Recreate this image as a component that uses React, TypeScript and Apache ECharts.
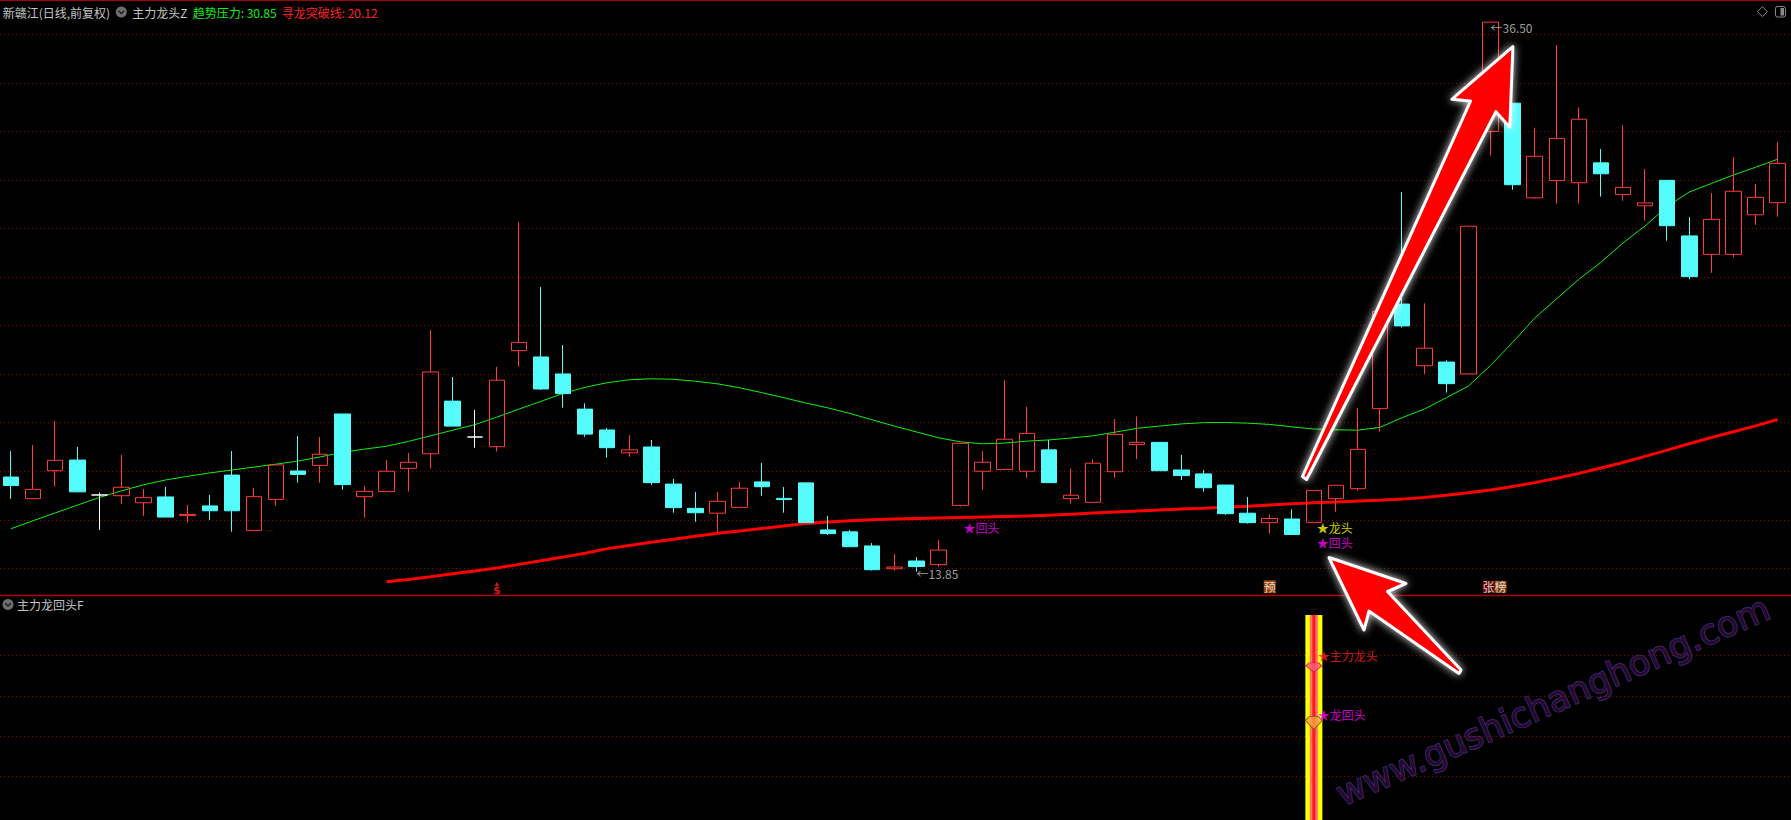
import React, { useEffect, useRef } from "react";
import * as echarts from "echarts";

// ---------- data ----------
const opens = [
  17.75, 16.86, 18.01, 18.45, 17.01, 16.98, 16.69, 16.93, 16.16, 16.56,
  17.83, 15.55, 16.83, 18.0, 18.23, 20.35, 16.94, 17.15, 18.11, 18.71,
  20.88, 19.4, 19.0, 22.96, 22.7, 22.0, 20.55, 19.69, 18.75, 18.99,
  17.46, 16.46, 16.26, 16.5, 17.55, 16.87, 17.51, 15.57, 15.49, 14.91,
  13.97, 14.29, 14.14, 16.58, 17.99, 18.06, 17.99, 18.87, 16.86, 16.71,
  17.97, 19.09, 19.18, 18.04, 17.88, 17.42, 16.26, 15.87, 16.02, 15.88,
  16.86, 17.27, 20.57, 24.88, 22.34, 22.49, 22.0, 32.0, 33.16, 29.26,
  29.97, 29.88, 30.7, 29.4, 28.93, 29.98, 27.69, 26.93, 26.93, 28.56, 29.06,
];
const closes = [
  17.4, 17.24, 18.44, 17.14, 17.01, 17.33, 16.9, 16.1, 16.21, 16.36,
  16.36, 16.94, 18.25, 17.86, 18.69, 17.44, 17.16, 17.99, 18.36, 22.08,
  19.85, 19.4, 21.74, 23.3, 21.38, 21.19, 19.52, 18.96, 18.87, 17.52,
  16.49, 16.28, 16.75, 17.29, 17.35, 16.82, 15.87, 15.42, 14.88, 13.93,
  14.04, 14.06, 14.74, 19.14, 18.36, 19.31, 19.55, 17.52, 17.0, 18.32,
  19.51, 19.18, 18.01, 17.81, 17.31, 16.24, 15.87, 16.04, 15.38, 17.2,
  17.41, 18.89, 24.58, 23.98, 23.06, 21.6, 28.09, 36.5, 29.8, 30.97,
  31.71, 32.5, 30.25, 29.69, 29.05, 28.11, 26.01, 28.37, 29.53, 29.28, 30.68,
];
const lows = [
  16.85, 16.86, 17.36, 17.14, 15.57, 16.64, 16.15, 16.1, 15.87, 15.98,
  15.5, 15.55, 16.57, 17.52, 17.52, 17.23, 16.08, 17.15, 17.15, 18.1,
  19.85, 18.96, 18.8, 22.3, 21.34, 20.61, 19.41, 18.55, 18.59, 17.42,
  16.28, 15.91, 15.47, 16.5, 16.98, 16.28, 15.87, 15.36, 14.88, 13.9,
  13.89, 13.85, 14.06, 16.53, 17.22, 18.06, 17.72, 17.52, 16.65, 16.71,
  17.72, 18.49, 18.01, 17.63, 17.15, 16.19, 15.83, 15.43, 15.38, 15.88,
  16.32, 17.19, 19.62, 23.91, 22.0, 21.23, 22.0, 31.0, 29.59, 29.22,
  29.02, 29.02, 29.31, 29.14, 28.32, 27.49, 25.9, 26.17, 26.81, 28.15, 28.48,
];
const highs = [
  18.82, 19.07, 20.06, 18.99, 17.11, 18.66, 17.26, 17.34, 16.6, 17.01,
  18.82, 17.3, 18.25, 19.44, 19.4, 20.35, 17.38, 18.45, 18.74, 23.81,
  21.87, 20.51, 22.29, 28.26, 25.58, 23.19, 20.79, 19.78, 19.48, 19.28,
  17.67, 17.13, 17.13, 17.55, 18.33, 17.34, 17.51, 16.15, 15.57, 15.03,
  14.58, 14.45, 15.16, 19.14, 18.82, 21.75, 20.64, 19.28, 18.11, 18.48,
  20.14, 20.25, 19.18, 18.66, 18.04, 17.42, 16.93, 16.21, 16.42, 17.2,
  17.41, 20.6, 24.6, 29.5, 24.91, 22.57, 28.09, 36.5, 33.16, 32.15,
  35.56, 32.99, 31.27, 32.26, 30.45, 29.98, 28.46, 29.46, 30.94, 29.83, 31.55,
];
// doji days drawn in white
const whiteDoji = [4, 21];

// 趋势压力 (green)
const trendPressure = [
  15.62, 15.95, 16.27, 16.59, 16.91, 17.18, 17.43, 17.63, 17.78, 17.92,
  18.04, 18.16, 18.28, 18.41, 18.58, 18.77, 18.9, 19.02, 19.22, 19.45,
  19.68, 19.91, 20.22, 20.55, 20.87, 21.2, 21.45, 21.64, 21.76, 21.8,
  21.78, 21.7, 21.59, 21.43, 21.23, 21.02, 20.8, 20.6, 20.37, 20.11,
  19.85, 19.61, 19.37, 19.2, 19.12, 19.15, 19.23, 19.28, 19.36, 19.45,
  19.6, 19.76, 19.85, 19.94, 19.99, 20.0, 19.97, 19.92, 19.82, 19.73,
  19.7, 19.68, 19.8, 20.2, 20.55, 21.02, 21.5, 22.35, 23.3, 24.3,
  25.1, 25.9, 26.6, 27.4, 28.1, 28.9, 29.5, 29.85, 30.2, 30.52, 30.85,
];
// 寻龙突破线 (red)
const breakoutLine: (number | null)[] = [
  null, null, null, null, null, null, null, null, null, null,
  null, null, null, null, null, null, null,
  13.43, 13.53, 13.64, 13.76, 13.88, 14.0, 14.15, 14.3, 14.45, 14.61,
  14.8, 14.93, 15.06, 15.19, 15.31, 15.43, 15.53, 15.63, 15.73, 15.84,
  15.9, 15.95, 15.99, 16.02, 16.04, 16.06, 16.08, 16.1, 16.12, 16.14,
  16.18, 16.22, 16.27, 16.31, 16.35, 16.39, 16.43, 16.46, 16.51, 16.55,
  16.6, 16.65, 16.69, 16.72, 16.76, 16.79, 16.84, 16.91, 17.0, 17.1,
  17.22, 17.36, 17.52, 17.7, 17.9, 18.12, 18.35, 18.6, 18.86, 19.12,
  19.38, 19.62, 19.86, 20.12,
];

const priceGrid = [14, 16, 18, 20, 22, 24, 26, 28, 30, 32, 34, 36];
const subGrid = [1, 2, 3, 4];

// signal texts in the price panel
const mainMarkIdx = [43, 59, 59];
const mainMarkPrice = [15.66, 15.66, 15.06];
const mainMarkText = ["★回头", "★龙头", "★回头"];

// tags at the bottom of the price panel
const tagIdx = [22, 57, 67];
const tagPrice = [13.16, 13.23, 13.23];
const tagText = ["$", "预", "张榜"];

// 主力龙回头F sub panel
const signalIdx = [59];
const signalVal = [5];
const gemIdx = [59, 59];
const gemVal = [3.7, 2.32];
const subMarkIdx = [59, 59];
const subMarkVal = [3.99, 2.52];
const subMarkText = ["★主力龙头", "★龙回头"];

const days = opens.map((_, i) => String(i + 1));

// ---------- styles ----------
const FONT = '"Noto Sans CJK SC", "DejaVu Sans", sans-serif';
const UP = "#ff3b3b";
const DOWN = "#54fcfc";
const GRID_RED = "#8c0000";

function buildOption(): any {
  const candleData = opens.map((o, i) => {
    const item: any = { value: [o, closes[i], lows[i], highs[i]] };
    if (whiteDoji.includes(i)) {
      item.itemStyle = { color: "#ffffff", color0: "#ffffff", borderColor: "#ffffff", borderColor0: "#ffffff" };
    }
    return item;
  });

  const minLow = Math.min(...lows);
  const minIdx = lows.indexOf(minLow);
  const maxHigh = Math.max(...highs);
  const maxIdx = highs.indexOf(maxHigh);

  const markColors = ["#ff00ff", "#ffff00", "#ff00ff"];
  const mainLabels: any[] = mainMarkIdx.map((idx, k) => ({
    value: [idx, mainMarkPrice[k]],
    label: { formatter: mainMarkText[k], color: markColors[k], distance: 3 },
  }));
  mainLabels.push({
    value: [minIdx, minLow - 0.07],
    label: { formatter: "←" + minLow.toFixed(2), color: "#c8c8c8", distance: 0 },
  });
  mainLabels.push({
    value: [maxIdx, maxHigh - 0.21],
    label: { formatter: "←" + maxHigh.toFixed(2), color: "#c8c8c8", distance: 0 },
  });

  const tagData = tagIdx.map((idx, k) => {
    const t = tagText[k];
    let label: any;
    if (t === "$") {
      label = {
        position: "inside",
        formatter: "{c|▲}\n{d|$}",
        rich: {
          c: { fontSize: 5, lineHeight: 5, color: "#ff2020", align: "center" },
          d: { fontSize: 11, lineHeight: 10, color: "#ff2020", fontWeight: "bold", fontFamily: "DejaVu Sans", align: "center" },
        },
      };
    } else if (t.length === 1) {
      label = {
        position: "inside",
        formatter: t,
        color: "#ffffff",
        fontSize: 12,
        lineHeight: 13,
        backgroundColor: "#b4520c",
        padding: [0, 0, 0, 0],
      };
    } else {
      label = {
        position: "inside",
        align: "left",
        offset: [-8, 0],
        formatter: "{a|" + t[0] + "}{b|" + t[1] + "}",
        rich: {
          a: { color: "#ffffff", fontSize: 12, lineHeight: 13, backgroundColor: "#7a0c0c", fontFamily: FONT },
          b: { color: "#ffffff", fontSize: 12, lineHeight: 13, backgroundColor: "#a8520e", fontFamily: FONT },
        },
      };
    }
    return { value: [idx, tagPrice[k]], label };
  });

  const subColors = ["#ff2020", "#ff00ff"];
  const subLabels = subMarkIdx.map((idx, k) => ({
    value: [idx, subMarkVal[k]],
    label: { formatter: subMarkText[k], color: subColors[k], distance: 4 },
  }));

  const gemSymbols = [
    "path://M0,3 L3,0 L13,0 L16,3 L8,9 Z",
    "path://M0,4 L4,0 L13,0 L17,4 L8.5,13 Z",
  ];
  const gemFill = ["#ff5a7a", "#f6a440"];
  const gemStroke = ["#b8203e", "#8a4a10"];
  const gemSize = [[16, 9], [17, 13]];
  const gemData = gemIdx.map((idx, k) => ({
    value: [idx, gemVal[k]],
    symbol: gemSymbols[k],
    symbolSize: gemSize[k],
    itemStyle: { color: gemFill[k], borderColor: gemStroke[k], borderWidth: 1 },
  }));

  const gridLineRender = (params: any, api: any) => {
    const y = Math.round(api.coord([0, api.value(1)])[1]) + 0.5;
    return {
      type: "line",
      shape: { x1: 0, y1: y, x2: 1791, y2: y },
      style: { stroke: GRID_RED, lineWidth: 1, lineDash: [1, 3] },
    };
  };

  const arrow1 = [
    [1302.5, 476.5], [1470.6, 101], [1451.8, 99.3], [1512.9, 46.7],
    [1509.8, 127.3], [1495.9, 111.7], [1306.5, 479.5],
  ];
  const arrow2 = [
    [1329, 557.5], [1406, 583.5], [1387.5, 591.5], [1461, 670],
    [1459, 673.5], [1369, 611], [1364, 630],
  ];

  const headerText = (text: string, x: number, y: number, fill: string) => ({
    type: "text",
    z: 20,
    style: {
      text, x, y, fill,
      font: `12px ${FONT}`,
      textVerticalAlign: "middle",
      verticalAlign: "middle",
    },
  });

  const circleIcon = (cx: number, cy: number) => ({
    type: "group",
    z: 20,
    children: [
      { type: "circle", shape: { cx, cy, r: 5.5 }, style: { fill: "#6e6e6e" } },
      {
        type: "polyline",
        shape: { points: [[cx - 2.8, cy - 1.2], [cx, cy + 1.6], [cx + 2.8, cy - 1.2]] },
        style: { stroke: "#1c1c1c", lineWidth: 1.4, fill: "none" },
      },
    ],
  });

  return {
    backgroundColor: "#000000",
    animation: false,
    grid: [
      { left: -1.48, top: 2, width: 1790.1, height: 593 },
      { left: -1.48, top: 596, width: 1790.1, height: 224 },
    ],
    xAxis: [
      { type: "category", data: days, gridIndex: 0, boundaryGap: true, show: false },
      { type: "category", data: days, gridIndex: 1, boundaryGap: true, show: false },
    ],
    yAxis: [
      { type: "value", gridIndex: 0, min: 12.888, max: 37.331, show: false, splitLine: { show: false } },
      { type: "value", gridIndex: 1, min: -0.084, max: 5.47, show: false, splitLine: { show: false } },
    ],
    series: [
      {
        type: "custom",
        name: "grid-main",
        xAxisIndex: 0,
        yAxisIndex: 0,
        z: 1,
        silent: true,
        clip: false,
        data: priceGrid.map((v) => [0, v]),
        encode: { x: 0, y: 1 },
        renderItem: gridLineRender,
      },
      {
        type: "custom",
        name: "grid-sub",
        xAxisIndex: 1,
        yAxisIndex: 1,
        z: 1,
        silent: true,
        clip: false,
        data: subGrid.map((v) => [0, v]),
        encode: { x: 0, y: 1 },
        renderItem: gridLineRender,
      },
      {
        type: "line",
        name: "趋势压力",
        xAxisIndex: 0,
        yAxisIndex: 0,
        z: 2,
        data: trendPressure,
        symbol: "none",
        lineStyle: { color: "#10f010", width: 1 },
      },
      {
        type: "line",
        name: "寻龙突破线",
        xAxisIndex: 0,
        yAxisIndex: 0,
        z: 2,
        data: breakoutLine,
        symbol: "none",
        connectNulls: false,
        lineStyle: { color: "#ff0000", width: 3 },
      },
      {
        type: "candlestick",
        name: "K线",
        xAxisIndex: 0,
        yAxisIndex: 0,
        z: 3,
        barWidth: 16,
        data: candleData,
        itemStyle: {
          color: "rgba(0,0,0,0)",
          color0: DOWN,
          borderColor: UP,
          borderColor0: DOWN,
          borderWidth: 1,
        },
      },
      {
        type: "scatter",
        name: "marks",
        xAxisIndex: 0,
        yAxisIndex: 0,
        z: 5,
        symbolSize: 0,
        itemStyle: { color: "rgba(0,0,0,0)" },
        data: mainLabels,
        label: { show: true, position: "right", fontSize: 12, fontFamily: FONT },
      },
      {
        type: "scatter",
        name: "tags",
        xAxisIndex: 0,
        yAxisIndex: 0,
        z: 5,
        symbolSize: 0,
        itemStyle: { color: "rgba(0,0,0,0)" },
        data: tagData,
        label: { show: true, fontSize: 12, fontFamily: FONT },
      },
      {
        type: "custom",
        name: "主力龙回头F",
        xAxisIndex: 1,
        yAxisIndex: 1,
        z: 3,
        data: signalIdx.map((idx, k) => [idx, signalVal[k]]),
        encode: { x: 0, y: 1 },
        renderItem: (params: any, api: any) => {
          const top = api.coord([api.value(0), api.value(1)]);
          const cs = params.coordSys;
          const bottom = cs.y + cs.height;
          const cx = top[0];
          const h = bottom - top[1];
          return {
            type: "group",
            children: [
              { type: "rect", shape: { x: cx - 8.5, y: top[1], width: 17, height: h }, style: { fill: "#ffff00" } },
              { type: "rect", shape: { x: cx - 4, y: top[1], width: 8, height: h }, style: { fill: "#ff6f6f" } },
              { type: "rect", shape: { x: cx - 1.5, y: top[1], width: 3, height: h }, style: { fill: "#ff1a1a" } },
            ],
          };
        },
      },
      {
        type: "scatter",
        name: "gems",
        xAxisIndex: 1,
        yAxisIndex: 1,
        z: 6,
        data: gemData,
      },
      {
        type: "scatter",
        name: "submarks",
        xAxisIndex: 1,
        yAxisIndex: 1,
        z: 6,
        symbolSize: 0,
        itemStyle: { color: "rgba(0,0,0,0)" },
        data: subLabels,
        label: { show: true, position: "right", fontSize: 12, fontFamily: FONT },
      },
    ],
    graphic: [
      {
        type: "text",
        z: 0,
        x: 1553,
        y: 701,
        rotation: 0.415,
        silent: true,
        style: {
          text: "www.gushichanghong.com",
          font: '35px "DejaVu Sans"',
          fill: "#26082e",
          stroke: "#3f2f78",
          lineWidth: 1.5,
          textAlign: "center",
          align: "center",
          textVerticalAlign: "middle",
          verticalAlign: "middle",
        },
      },
      { type: "line", z: 20, shape: { x1: 0, y1: 0.5, x2: 1791, y2: 0.5 }, style: { stroke: "#a00000", lineWidth: 1 } },
      { type: "line", z: 20, shape: { x1: 0, y1: 595.5, x2: 1791, y2: 595.5 }, style: { stroke: "#b40000", lineWidth: 1.5 } },
      headerText("新赣江(日线,前复权)", 2.7, 12, "#c4c4c4"),
      circleIcon(121.3, 12),
      headerText("主力龙头Z", 132.3, 12, "#c4c4c4"),
      headerText("趋势压力: " + trendPressure[trendPressure.length - 1].toFixed(2), 192.7, 12, "#10f010"),
      headerText("寻龙突破线: " + (breakoutLine[breakoutLine.length - 1] as number).toFixed(2), 281.7, 12, "#ff2020"),
      circleIcon(8, 604.5),
      headerText("主力龙回头F", 17, 604.5, "#c4c4c4"),
      {
        type: "polygon",
        z: 20,
        shape: { points: [[1762.4, 6.7], [1767.4, 11.7], [1762.4, 16.7], [1757.4, 11.7]] },
        style: { fill: "none", stroke: "#8a8a8a", lineWidth: 1 },
      },
      {
        type: "rect",
        z: 20,
        shape: { x: 1775.5, y: 6.5, width: 10, height: 10.5, r: 2 },
        style: { fill: "none", stroke: "#8a8a8a", lineWidth: 1 },
      },
      {
        type: "rect",
        z: 20,
        shape: { x: 1780.5, y: 8, width: 3.5, height: 7.5 },
        style: { fill: "#8a8a8a" },
      },
      {
        type: "polygon",
        z: 30,
        shape: { points: arrow1 },
        style: {
          fill: "#ff0000",
          stroke: "#ffffff",
          lineWidth: 3,
          lineJoin: "round",
          shadowBlur: 8,
          shadowColor: "rgba(255,255,255,0.85)",
        },
      },
      {
        type: "polygon",
        z: 30,
        shape: { points: arrow2 },
        style: {
          fill: "#ff0000",
          stroke: "#ffffff",
          lineWidth: 3,
          lineJoin: "round",
          shadowBlur: 8,
          shadowColor: "rgba(255,255,255,0.85)",
        },
      },
    ],
  };
}

export default function App() {
  const ref = useRef<HTMLDivElement>(null);
  useEffect(() => {
    document.body.style.margin = "0";
    document.body.style.background = "#000";
    const chart = echarts.init(ref.current as HTMLDivElement, null, { renderer: "svg" });
    chart.setOption(buildOption());
    return () => chart.dispose();
  }, []);
  return (
    <div
      ref={ref}
      style={{ position: "absolute", left: 0, top: 0, width: 1791, height: 820, background: "#000" }}
    />
  );
}
